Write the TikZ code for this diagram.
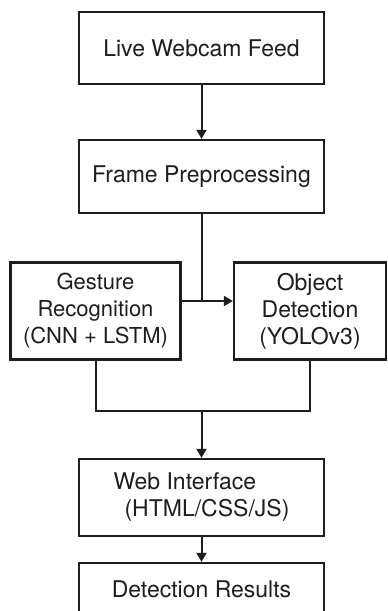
\documentclass[tikz,border=0pt]{standalone}
\usepackage{fontspec}
\setmainfont{TeX Gyre Heros}
\usetikzlibrary{arrows.meta}
\definecolor{ink}{HTML}{1E1E1E}
\begin{document}
\begin{tikzpicture}[x=1pt,y=1pt,
  box/.style={draw=ink, line width=2.3pt, rectangle, inner sep=0pt, align=center,
    text=ink, font=\fontsize{23}{27}\selectfont},
  conn/.style={draw=ink, line width=2pt},
  arr/.style={conn, -{Triangle[width=10pt,length=9pt]}}]
\useasboundingbox[fill=white] (0,0) rectangle (388,-611);
\node[box, minimum width=245, minimum height=72] (feed) at (201.5,-48) {Live Webcam Feed};
\node[box, minimum width=245, minimum height=73] (prep) at (201.5,-176.5) {Frame Preprocessing};
\node[box, minimum width=170, minimum height=97, font=\fontsize{22}{27}\selectfont] (gest) at (95.5,-311) {Gesture\\Recognition\\(CNN + LSTM)};
\node[box, minimum width=152, minimum height=97] (obj) at (310,-311) {Object\\Detection\\(YOLOv3)};
\node[box, minimum width=245, minimum height=77, align=left] (web) at (201.5,-497.5) {Web Interface\\\hspace*{11pt}(HTML/CSS/JS)};
\node[box, minimum width=245, minimum height=52] (res) at (201.5,-589) {Detection Results};
\coordinate (j) at (201.5,-301);
\coordinate (m) at (201.5,-411);
\draw[arr] (feed.south) -- (prep.north);
\draw[conn] (prep.south) -- (j);
\draw[arr] (gest.east |- j) -- (obj.west |- j);
\draw[conn] (gest.south) |- (m) -| (obj.south);
\draw[arr] (m) -- (web.north);
\draw[arr] (web.south) -- (res.north);
\end{tikzpicture}
\end{document}
